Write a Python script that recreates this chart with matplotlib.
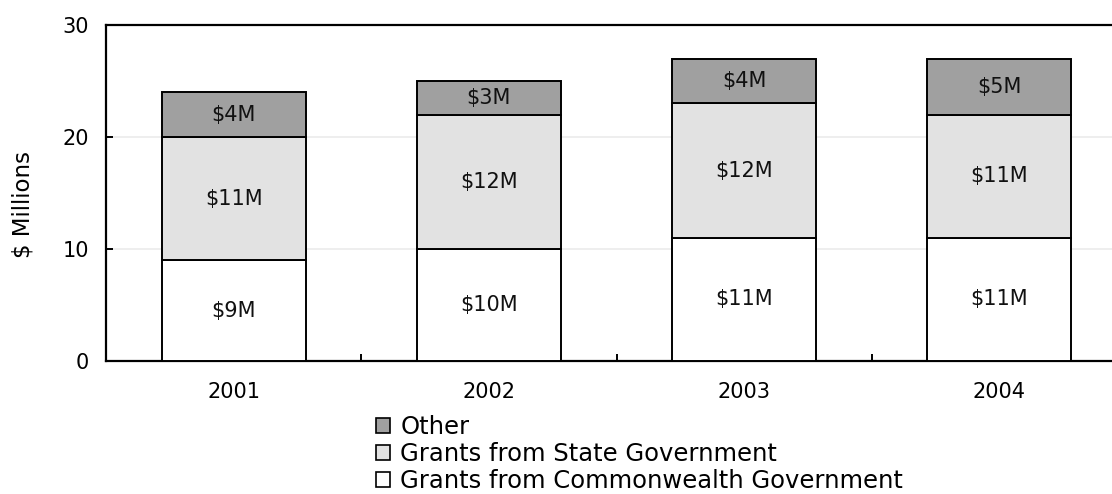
import matplotlib
matplotlib.use("Agg")
import matplotlib.pyplot as plt
import numpy as np
from matplotlib.patches import Patch

years = ["2001", "2002", "2003", "2004"]
commonwealth = [9, 10, 11, 11]
state = [11, 12, 12, 11]
other = [4, 3, 4, 5]
series_names = ["Grants from Commonwealth Government",
                "Grants from State Government",
                "Other"]
series_colors = ["#ffffff", "#e2e2e2", "#a0a0a0"]
y_ticks = [0, 10, 20, 30]

plt.rcParams["font.family"] = ["DejaVu Sans"]
W, H = 1112, 494
fig = plt.figure(figsize=(W / 100, H / 100), dpi=100)
# axes runs slightly past the right edge of the canvas
ax = fig.add_axes([106 / W, 1 - 361 / H, (1127 - 106) / W, (361 - 25) / H])

x = np.arange(len(years))
width = 0.565
bottom = np.zeros(len(years))
for vals, name, color in zip([commonwealth, state, other], series_names, series_colors):
    vals = np.array(vals, dtype=float)
    ax.bar(x, vals, width, bottom=bottom, color=color, edgecolor="black",
           linewidth=1.4, label=name, zorder=3)
    for xi, b, v in zip(x, bottom, vals):
        ax.text(xi, b + v / 2, f"${int(v)}M", ha="center", va="center",
                fontsize=15, color="#111111", zorder=4)
    bottom += vals

ax.set_xlim(-0.5, len(years) - 0.5)
ax.set_ylim(0, 30)
ax.set_yticks(y_ticks)
ax.tick_params(axis="y", labelsize=15, length=5, width=1.4, direction="in", pad=12)
ax.yaxis.grid(True, color="#eeeeee", linewidth=1.4, zorder=0)
ax.set_axisbelow(True)

# category labels at centres, tick marks at boundaries
ax.set_xticks(x)
ax.set_xticklabels(years, fontsize=15)
ax.tick_params(axis="x", length=0, pad=15)
ax.set_xticks(np.arange(len(years) + 1) - 0.5, minor=True)
ax.tick_params(axis="x", which="minor", direction="in", length=5, width=1.4)

for side in ["left", "top", "bottom"]:
    ax.spines[side].set_linewidth(1.6)
ax.spines["right"].set_visible(False)

fig.text(23 / W, 1 - 205 / H, "$ Millions", rotation=90, ha="center", va="center",
         fontsize=16.5)

handles = [Patch(facecolor=c, edgecolor="black", linewidth=1.2, label=n)
           for n, c in zip(series_names, series_colors)][::-1]
fig.legend(handles=handles, loc="upper left", bbox_to_anchor=(376 / W, 1 - 415 / H),
           frameon=False, fontsize=17.5, handlelength=0.58, handleheight=0.58,
           handletextpad=0.42, labelspacing=0.13, borderpad=0.0, borderaxespad=0.0)

fig.savefig("out.png", dpi=100)
